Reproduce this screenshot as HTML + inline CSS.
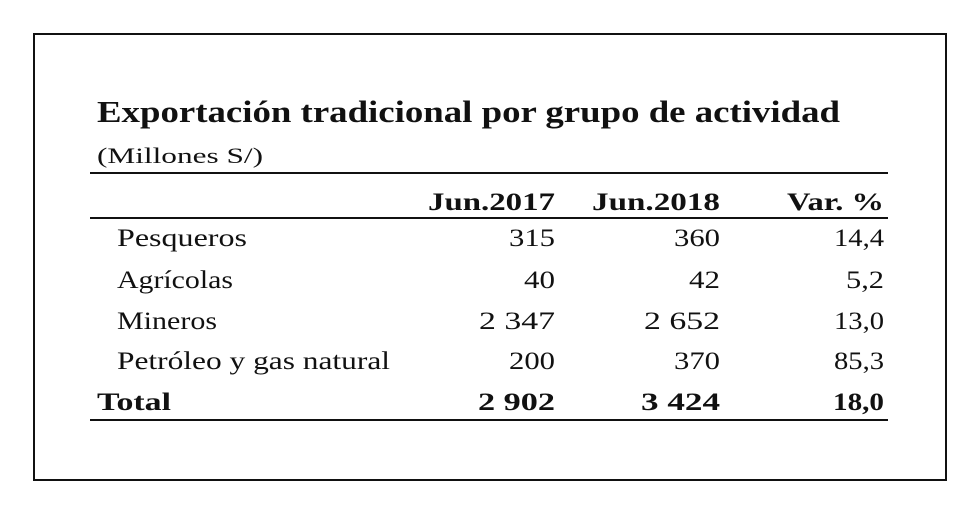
<!DOCTYPE html>
<html><head><meta charset="utf-8"><style>
body{margin:0;background:#fff;}
svg{display:block;}
text{font-family:"Liberation Serif",serif;fill:#111;}
</style></head><body>
<svg width="980" height="514" viewBox="0 0 980 514">
<rect x="34" y="34" width="912" height="446" fill="#fff" stroke="#111" stroke-width="2"/>
<text x="97" y="122" font-size="31" font-weight="bold" textLength="743" lengthAdjust="spacingAndGlyphs">Exportación tradicional por grupo de actividad</text>
<text x="97" y="163" font-size="22" textLength="166" lengthAdjust="spacingAndGlyphs">(Millones S/)</text>
<line x1="90" y1="173" x2="888" y2="173" stroke="#111" stroke-width="2"/>
<line x1="90" y1="218" x2="888" y2="218" stroke="#111" stroke-width="2"/>
<line x1="90" y1="420" x2="888" y2="420" stroke="#111" stroke-width="2"/>
<g font-size="25" font-weight="bold" text-anchor="end" lengthAdjust="spacingAndGlyphs">
<text x="555" y="210" textLength="127" lengthAdjust="spacingAndGlyphs">Jun.2017</text>
<text x="720" y="210" textLength="128" lengthAdjust="spacingAndGlyphs">Jun.2018</text>
<text x="884" y="210" textLength="97" lengthAdjust="spacingAndGlyphs">Var. %</text>
</g>
<g font-size="25">
<text x="117" y="246" textLength="130" lengthAdjust="spacingAndGlyphs">Pesqueros</text>
<text x="555" y="246" text-anchor="end" textLength="46" lengthAdjust="spacingAndGlyphs">315</text>
<text x="720" y="246" text-anchor="end" textLength="46" lengthAdjust="spacingAndGlyphs">360</text>
<text x="884" y="246" text-anchor="end" textLength="50" lengthAdjust="spacingAndGlyphs">14,4</text>
<text x="117" y="288" textLength="116" lengthAdjust="spacingAndGlyphs">Agrícolas</text>
<text x="555" y="288" text-anchor="end" textLength="31" lengthAdjust="spacingAndGlyphs">40</text>
<text x="720" y="288" text-anchor="end" textLength="31" lengthAdjust="spacingAndGlyphs">42</text>
<text x="884" y="288" text-anchor="end" textLength="38" lengthAdjust="spacingAndGlyphs">5,2</text>
<text x="117" y="329" textLength="100" lengthAdjust="spacingAndGlyphs">Mineros</text>
<text x="555" y="329" text-anchor="end" textLength="76" lengthAdjust="spacingAndGlyphs">2 347</text>
<text x="720" y="329" text-anchor="end" textLength="76" lengthAdjust="spacingAndGlyphs">2 652</text>
<text x="884" y="329" text-anchor="end" textLength="50" lengthAdjust="spacingAndGlyphs">13,0</text>
<text x="117" y="369" textLength="273" lengthAdjust="spacingAndGlyphs">Petróleo y gas natural</text>
<text x="555" y="369" text-anchor="end" textLength="46" lengthAdjust="spacingAndGlyphs">200</text>
<text x="720" y="369" text-anchor="end" textLength="46" lengthAdjust="spacingAndGlyphs">370</text>
<text x="884" y="369" text-anchor="end" textLength="50" lengthAdjust="spacingAndGlyphs">85,3</text>
</g>
<g font-size="25" font-weight="bold">
<text x="97" y="410" textLength="74" lengthAdjust="spacingAndGlyphs">Total</text>
<text x="555" y="410" text-anchor="end" textLength="77" lengthAdjust="spacingAndGlyphs">2 902</text>
<text x="720" y="410" text-anchor="end" textLength="79" lengthAdjust="spacingAndGlyphs">3 424</text>
<text x="884" y="410" text-anchor="end" textLength="51" lengthAdjust="spacingAndGlyphs">18,0</text>
</g>
</svg>
</body></html>
